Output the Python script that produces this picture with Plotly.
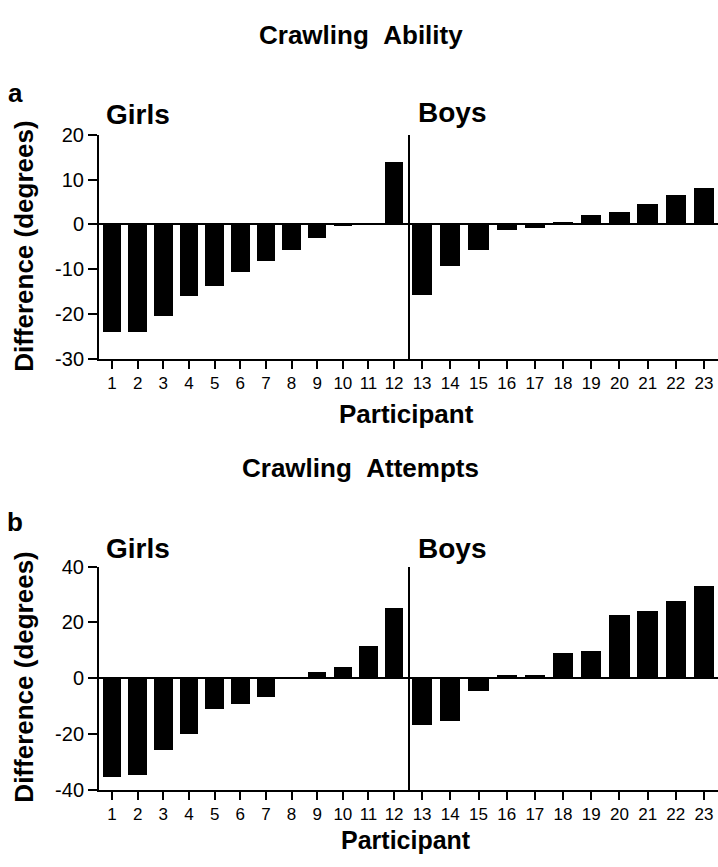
import plotly.graph_objects as go

W, H = 718, 867

girls_ids = list(range(1, 13))
boys_ids = list(range(13, 24))

ability_girls = [-24.0, -24.0, -20.4, -15.8, -13.6, -10.6, -8.2, -5.7, -3.0, -0.2, 0.3, 14.0]
ability_boys = [-15.7, -9.2, -5.7, -1.1, -0.7, 0.6, 2.1, 2.8, 4.5, 6.7, 8.1]

attempts_girls = [-35.4, -34.4, -25.6, -19.8, -11.0, -9.2, -6.5, 0.0, 2.2, 4.1, 11.7, 25.3]
attempts_boys = [-16.6, -15.3, -4.3, 1.2, 1.2, 9.1, 9.8, 22.7, 24.3, 27.7, 33.3]

ability_yticks = [20, 10, 0, -10, -20, -30]
attempts_yticks = [40, 20, 0, -20, -40]

FONT = "Liberation Sans, Arial, Helvetica, sans-serif"


def px_x(p):
    return p / W


def px_y(p):
    return 1 - p / H


fig = go.Figure()

bar_style = dict(color="black", line=dict(width=0))
fig.add_trace(go.Bar(x=girls_ids, y=ability_girls, width=0.72, marker=bar_style, xaxis="x", yaxis="y"))
fig.add_trace(go.Bar(x=boys_ids, y=ability_boys, width=0.72, marker=bar_style, xaxis="x2", yaxis="y2"))
fig.add_trace(go.Bar(x=girls_ids, y=attempts_girls, width=0.72, marker=bar_style, xaxis="x3", yaxis="y3"))
fig.add_trace(go.Bar(x=boys_ids, y=attempts_boys, width=0.72, marker=bar_style, xaxis="x4", yaxis="y4"))

xg_dom = [px_x(99), px_x(410)]
xb_dom = [px_x(410), 1.0]
ya_dom = [px_y(357), px_y(127)]
yb_dom = [px_y(799), px_y(570)]

tickfont_x = dict(family=FONT, size=17, color="black")
tickfont_y = dict(family=FONT, size=20, color="black")


def xaxis(dom, rng, ids, anchor):
    return dict(domain=dom, range=rng, anchor=anchor, showline=True, linecolor="black", linewidth=2,
                ticks="outside", ticklen=8, tickwidth=1.5, tickcolor="black",
                tickvals=ids, ticktext=[str(i) for i in ids], tickfont=tickfont_x,
                ticklabelstandoff=0,
                showgrid=False, zeroline=False, fixedrange=True)


def yaxis_main(dom, rng, ticks, anchor):
    return dict(domain=dom, range=rng, anchor=anchor, showline=True, linecolor="black", linewidth=2,
                ticks="outside", ticklen=9, tickwidth=1.5, tickcolor="black",
                tickvals=ticks, ticktext=[str(t) for t in ticks], tickfont=tickfont_y,
                showgrid=False, zeroline=True, zerolinecolor="black", zerolinewidth=2, fixedrange=True)


def yaxis_side(dom, rng, anchor):
    return dict(domain=dom, range=rng, anchor=anchor, showline=True, linecolor="black", linewidth=2,
                ticks="", showticklabels=False,
                showgrid=False, zeroline=True, zerolinecolor="black", zerolinewidth=2, fixedrange=True)


# right edge of the boys panel lies at the window edge (718 px)
boys_right = 23 + (718 - 704) / 28.2

fig.update_layout(
    width=W, height=H,
    margin=dict(l=0, r=0, t=0, b=0),
    paper_bgcolor="white", plot_bgcolor="white",
    showlegend=False, bargap=0,
    xaxis=xaxis(xg_dom, [0.49, 12.62], girls_ids, "y"),
    xaxis2=xaxis(xb_dom, [12.57, boys_right], boys_ids, "y2"),
    xaxis3=xaxis(xg_dom, [0.49, 12.62], girls_ids, "y3"),
    xaxis4=xaxis(xb_dom, [12.57, boys_right], boys_ids, "y4"),
    yaxis=yaxis_main(ya_dom, [-30, 20], ability_yticks, "x"),
    yaxis2=yaxis_side(ya_dom, [-30, 20], "x2"),
    yaxis3=yaxis_main(yb_dom, [-40, 40], attempts_yticks, "x3"),
    yaxis4=yaxis_side(yb_dom, [-40, 40], "x4"),
    font=dict(family=FONT, color="black"),
)


def ann(text, x, y, size, angle=0, xanchor="center"):
    fig.add_annotation(text="<b>" + text + "</b>", x=px_x(x), y=px_y(y), xref="paper", yref="paper",
                       xanchor=xanchor, yanchor="middle", showarrow=False, textangle=angle,
                       borderpad=0, font=dict(family=FONT, size=size, color="black"))


ann("Crawling&nbsp;&nbsp;Ability", 361, 25, 26)
ann("a", 15, 84, 26)
ann("Girls", 138, 106, 28)
ann("Boys", 452, 104, 28)
ann("Difference (degrees)", 24, 242, 26, angle=-90)
ann("Participant", 406, 413, 26)

ann("Crawling&nbsp;&nbsp;Attempts", 361, 469, 26)
ann("b", 15, 524, 26)
ann("Girls", 138, 552, 28)
ann("Boys", 452, 551, 28)
ann("Difference (degrees)", 24, 684, 26, angle=-90)
ann("Participant", 406, 851, 25)

fig.write_html(
    "out.html",
    config={"displayModeBar": False},
    post_script="document.body.style.margin='0';document.body.style.overflow='hidden';",
)
